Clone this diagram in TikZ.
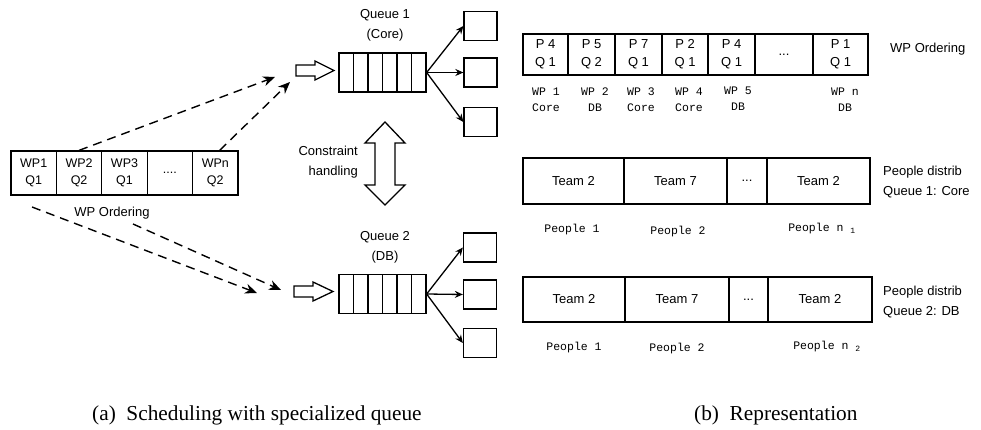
\documentclass[tikz,border=0pt]{standalone}
\usepackage{fontspec}
\setmainfont{Liberation Sans}
\setmonofont{Liberation Mono}
\newfontfamily\capfont{Liberation Serif}
\usetikzlibrary{arrows.meta}

\begin{document}
\begin{tikzpicture}[x=1pt,y=-1pt,
        cell/.style={draw, line width=1.3pt, inner sep=0pt, minimum width=45.4pt, minimum height=44pt, align=center, font=\fontsize{12.5}{17}\selectfont},
        slot/.style={draw, line width=2.8pt, inner sep=0pt, align=center, font=\fontsize{13}{18}\selectfont},
        outbox/.style={draw, line width=1.3pt, minimum width=33pt, minimum height=29pt, inner sep=0pt},
        qbox/.style={draw, line width=1.3pt, minimum width=87pt, minimum height=39pt, inner sep=0pt},
        txt/.style={inner sep=0pt, align=center, font=\fontsize{13}{20}\selectfont},
        mono/.style={inner sep=0pt, align=center, font=\ttfamily\fontsize{11.5}{16}\selectfont},
        feed/.style={dashed, dash pattern=on 9pt off 6pt, line width=1.4pt, -{Stealth[length=12pt,width=10pt]}},
        pick/.style={line width=1.3pt, -{Stealth[length=8pt,width=7pt]}}]

        \useasboundingbox (0,0) rectangle (981,430);

        % (a) work packages
        \node[cell] (wp1) at (33.7, 173) {WP1\\Q1};
        \node[cell] (wp2) at (79.1, 173) {WP2\\Q2};
        \node[cell] (wp3) at (124.5, 173) {WP3\\Q1};
        \node[cell] (wpd) at (169.9, 173) {....};
        \node[cell] (wpn) at (215.3, 173) {WPn\\Q2};
        \node[txt] (wpord) at (112, 213) {WP Ordering};

        % queues
        \node[txt] (q1lab) at (385, 25) {Queue 1\\(Core)};
        \node[qbox] (q1) at (382.5, 72.5) {};
        \foreach \i in {1,...,5}
            \draw[line width=1.3pt] (339+14.5*\i, 53) -- (339+14.5*\i, 92);
        \node[txt] (q2lab) at (385, 247.5) {Queue 2\\(DB)};
        \node[qbox] (q2) at (382.5, 294) {};
        \foreach \i in {1,...,5}
            \draw[line width=1.3pt] (339+14.5*\i, 274.5) -- (339+14.5*\i, 313.5);

        \node[outbox] (o11) at (480.5, 26) {};
        \node[outbox] (o12) at (480.5, 72.5) {};
        \node[outbox] (o13) at (480.5, 122) {};
        \node[outbox] (o21) at (480, 247.5) {};
        \node[outbox] (o22) at (480, 294.5) {};
        \node[outbox] (o23) at (480, 343) {};

        \draw[pick] (q1.east) -- (o11.west);
        \draw[pick] (q1.east) -- (o12.west);
        \draw[pick] (q1.east) -- (o13.west);
        \draw[pick] (q2.east) -- (o21.west);
        \draw[pick] (q2.east) -- (o22.west);
        \draw[pick] (q2.east) -- (o23.west);

        % hollow arrows
        \draw[line width=1.3pt] (296,65) -- (315,65) -- (315,61) -- (334,70.5) -- (315,80) -- (315,76) -- (296,76) -- cycle;
        \draw[line width=1.3pt] (294,286) -- (313,286) -- (313,282) -- (333,291.5) -- (313,301) -- (313,297) -- (294,297) -- cycle;
        \draw[line width=1.3pt] (375,143) -- (365,143) -- (385,122) -- (405,143) -- (395,143) -- (395,185) -- (405,185) -- (385,205) -- (365,185) -- (375,185) -- cycle;
        \node[txt, align=right, anchor=east] (cons) at (358, 162.5) {Constraint\\handling};

        % dashed feeds
        \coordinate (t1) at (275, 77);
        \coordinate (t2) at (290, 82);
        \coordinate (s3) at (32, 207);
        \coordinate (t3) at (257, 293);
        \coordinate (s4) at (133, 224);
        \coordinate (t4) at (281, 290);
        \draw[feed] (wp2.north) -- (t1);
        \draw[feed] (wpn.north east) ++(-19,0) -- (t2);
        \draw[feed] (s3) -- (t3);
        \draw[feed] (s4) -- (t4);

        % (b) WP ordering
        \node[slot, minimum width=45pt, minimum height=41pt] (r1) at (545.5, 54.5) {P 4\\Q 1};
        \node[slot, minimum width=47pt, minimum height=41pt] (r2) at (591.5, 54.5) {P 5\\Q 2};
        \node[slot, minimum width=47pt, minimum height=41pt] (r3) at (638.5, 54.5) {P 7\\Q 1};
        \node[slot, minimum width=46pt, minimum height=41pt] (r4) at (685, 54.5) {P 2\\Q 1};
        \node[slot, minimum width=47pt, minimum height=41pt] (r5) at (731.5, 54.5) {P 4\\Q 1};
        \node[slot, minimum width=58pt, minimum height=41pt] (r6) at (784, 54.5) {...};
        \node[slot, minimum width=55pt, minimum height=41pt] (r7) at (840.5, 54.5) {P 1\\Q 1};
        \node[txt, anchor=west] (rlab) at (890, 49) {WP Ordering};

        \node[mono] (m1) at (546, 100) {WP 1\\Core};
        \node[mono] (m2) at (595, 100) {WP 2\\DB};
        \node[mono] (m3) at (641, 100) {WP 3\\Core};
        \node[mono] (m4) at (689, 100) {WP 4\\Core};
        \node[mono] (m5) at (738, 99) {WP 5\\DB};
        \node[mono] (m6) at (845, 100) {WP n\\DB};

        % people distribution
        \node[slot, minimum width=101pt, minimum height=46pt] (p11) at (573.5, 181) {Team 2};
        \node[slot, minimum width=103pt, minimum height=46pt] (p12) at (675.5, 181) {Team 7};
        \node[slot, minimum width=40pt, minimum height=46pt] (p13) at (747, 181) {...};
        \node[slot, minimum width=103pt, minimum height=46pt] (p14) at (818.5, 181) {Team 2};
        \node[txt, align=left, anchor=west] (plab1) at (883, 182.5) {People distrib\\Queue 1: Core};
        \node[mono] (n11) at (572, 230) {People 1};
        \node[mono] (n12) at (678, 232) {People 2};
        \node[mono] (n13) at (822, 229) {People n \textsubscript{1}};

        \node[slot, minimum width=102pt, minimum height=45pt] (p21) at (574, 299.5) {Team 2};
        \node[slot, minimum width=104pt, minimum height=45pt] (p22) at (677, 299.5) {Team 7};
        \node[slot, minimum width=39pt, minimum height=45pt] (p23) at (748.5, 299.5) {...};
        \node[slot, minimum width=104pt, minimum height=45pt] (p24) at (820, 299.5) {Team 2};
        \node[txt, align=left, anchor=west] (plab2) at (883, 302) {People distrib\\Queue 2: DB};
        \node[mono] (n21) at (574, 348) {People 1};
        \node[mono] (n22) at (677, 349) {People 2};
        \node[mono] (n23) at (827, 347) {People n \textsubscript{2}};

        % captions
        \node[anchor=base west, inner sep=0pt, font=\capfont\fontsize{21.3}{24}\selectfont] (capa) at (92, 420) {(a)\ \ Scheduling with specialized queue};
        \node[anchor=base west, inner sep=0pt, font=\capfont\fontsize{21.3}{24}\selectfont] (capb) at (694, 420) {(b)\ \ Representation};
    \end{tikzpicture}
\end{document}
